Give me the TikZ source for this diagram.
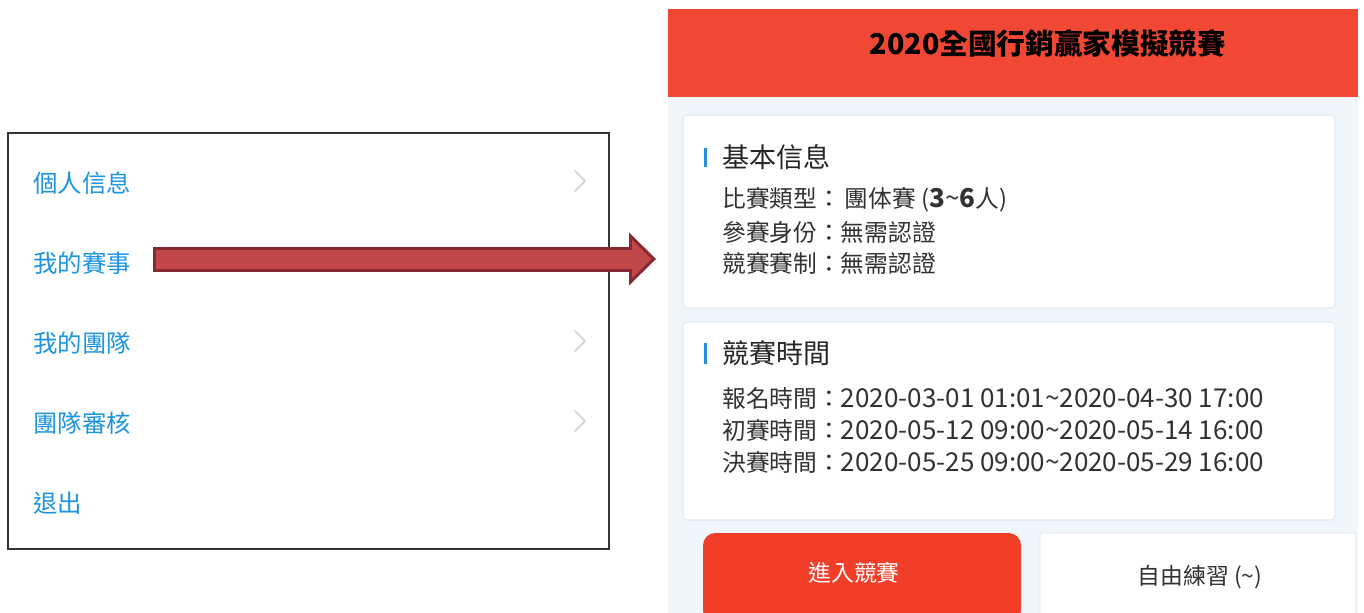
\documentclass[tikz,border=0pt]{standalone}
\usepackage{fontspec}
\setmainfont{Noto Sans CJK TC}
\usetikzlibrary{arrows.meta}
\definecolor{menublue}{RGB}{28,148,226}
\definecolor{headred}{RGB}{240,72,52}
\definecolor{btnred}{RGB}{241,62,40}
\definecolor{panelbg}{RGB}{240,246,250}
\definecolor{cardedge}{RGB}{226,234,240}
\definecolor{bodygray}{RGB}{50,50,50}
\definecolor{arrowdark}{RGB}{135,40,50}
\definecolor{arrowfill}{RGB}{192,72,72}
\definecolor{chevgray}{RGB}{208,212,216}
\definecolor{barblue}{RGB}{40,140,225}
\newcommand{\datefont}{\fontsize{14.8}{16}\selectfont}

\begin{document}
\begin{tikzpicture}[x=0.02cm, y=-0.02cm]
    % Stili per i nodi
    \tikzstyle{menubox}=[rectangle, draw=black!80, fill=white, line width=1.4pt, minimum width=12.02cm, minimum height=8.32cm]
    \tikzstyle{menuitem}=[anchor=west, inner sep=0pt, text=menublue, font=\fontsize{13.9}{16}\selectfont]
    \tikzstyle{card}=[rectangle, draw=cardedge, fill=white, line width=0.6pt, rounded corners=2pt, minimum width=13.04cm]
    \tikzstyle{cardtitle}=[anchor=west, inner sep=0pt, text=black!85, font=\fontsize{15.4}{18}\selectfont]
    \tikzstyle{infoline}=[anchor=west, inner sep=0pt, text=bodygray, font=\fontsize{13.5}{16}\selectfont]
    \tikzstyle{titlebar}=[fill=barblue, draw=none]
    \tikzstyle{chevron}=[draw=chevgray, line width=1pt, line cap=round, line join=round]
    \tikzstyle{button}=[rectangle, rounded corners=7pt, minimum height=1.8cm]
    \tikzstyle{btntext}=[inner sep=0pt, font=\fontsize{13}{16}\selectfont]

    \useasboundingbox (0,0) rectangle (1364,612);

    % Menu a sinistra
    \node[menubox] (menu) at (308.5,341) {};
    \node[menuitem] (info) at (33,183) {個人信息};
    \node[menuitem] (mymatch) at (33,263) {我的賽事};
    \node[menuitem] (myteam) at (33,343) {我的團隊};
    \node[menuitem] (review) at (33,423) {團隊審核};
    \node[menuitem] (logout) at (33,503) {退出};
    \foreach \y in {181,341,421}
        \draw[chevron] (575,\y-10) -- (585,\y) -- (575,\y+10);

    % Pagina della gara
    \node[rectangle, fill=panelbg, minimum width=13.8cm, minimum height=10.4cm] (panel) at (1013,357) {};
    \node[rectangle, fill=headred, minimum width=13.8cm, minimum height=1.76cm] (header) at (1013,53) {};
    \node[inner sep=0pt, font=\fontsize{16.3}{19}\selectfont\bfseries] (title) at (1048,44) {2020全國行銷贏家模擬競賽};

    \node[card, minimum height=3.86cm] (card1) at (1009,211.5) {};
    \fill[titlebar] (704,148) rectangle (707,167);
    \node[cardtitle] (basic) at (722,157) {基本信息};
    \node[infoline] (kind) at (722,200) {比賽類型：\,團体賽 ({\datefont\textbf{3}\textasciitilde\textbf{6}}人)};
    \node[infoline] (ident) at (722,232) {參賽身份：無需認證};
    \node[infoline] (rule) at (722,263) {競賽賽制：無需認證};

    \node[card, minimum height=3.96cm] (card2) at (1009,421) {};
    \fill[titlebar] (704,343) rectangle (707,364);
    \node[cardtitle] (timing) at (722,353) {競賽時間};
    \node[infoline] (signup) at (722,398) {報名時間：{\datefont 2020-03-01 01:01\textasciitilde 2020-04-30 17:00}};
    \node[infoline] (prelim) at (722,430) {初賽時間：{\datefont 2020-05-12 09:00\textasciitilde 2020-05-14 16:00}};
    \node[infoline] (final) at (722,462) {決賽時間：{\datefont 2020-05-25 09:00\textasciitilde 2020-05-29 16:00}};

    % Pulsanti
    \node[button, fill=btnred, minimum width=6.36cm] (enter) at (862,578) {};
    \node[btntext, text=white] (entertext) at (854,573) {進入競賽};
    \node[button, fill=white, draw=cardedge, rounded corners=1pt, minimum width=6.32cm] (free) at (1198,578) {};
    \node[btntext, text=bodygray] (freetext) at (1200,577) {自由練習 (\textasciitilde)};

    % Freccia
    \coordinate (arrowstart) at (153,259);
    \coordinate (arrowend) at (656,259);
    \draw[line width=0.5cm, arrowdark, -{Triangle[length=0.54cm, width=1.06cm, line width=0pt]}] (arrowstart) -- (arrowend);
    \draw[line width=0.38cm, arrowfill, shorten <=0.06cm, shorten >=0.09cm, -{Triangle[length=0.39cm, width=0.77cm, line width=0pt]}] (arrowstart) -- (arrowend);
\end{tikzpicture}
\end{document}
